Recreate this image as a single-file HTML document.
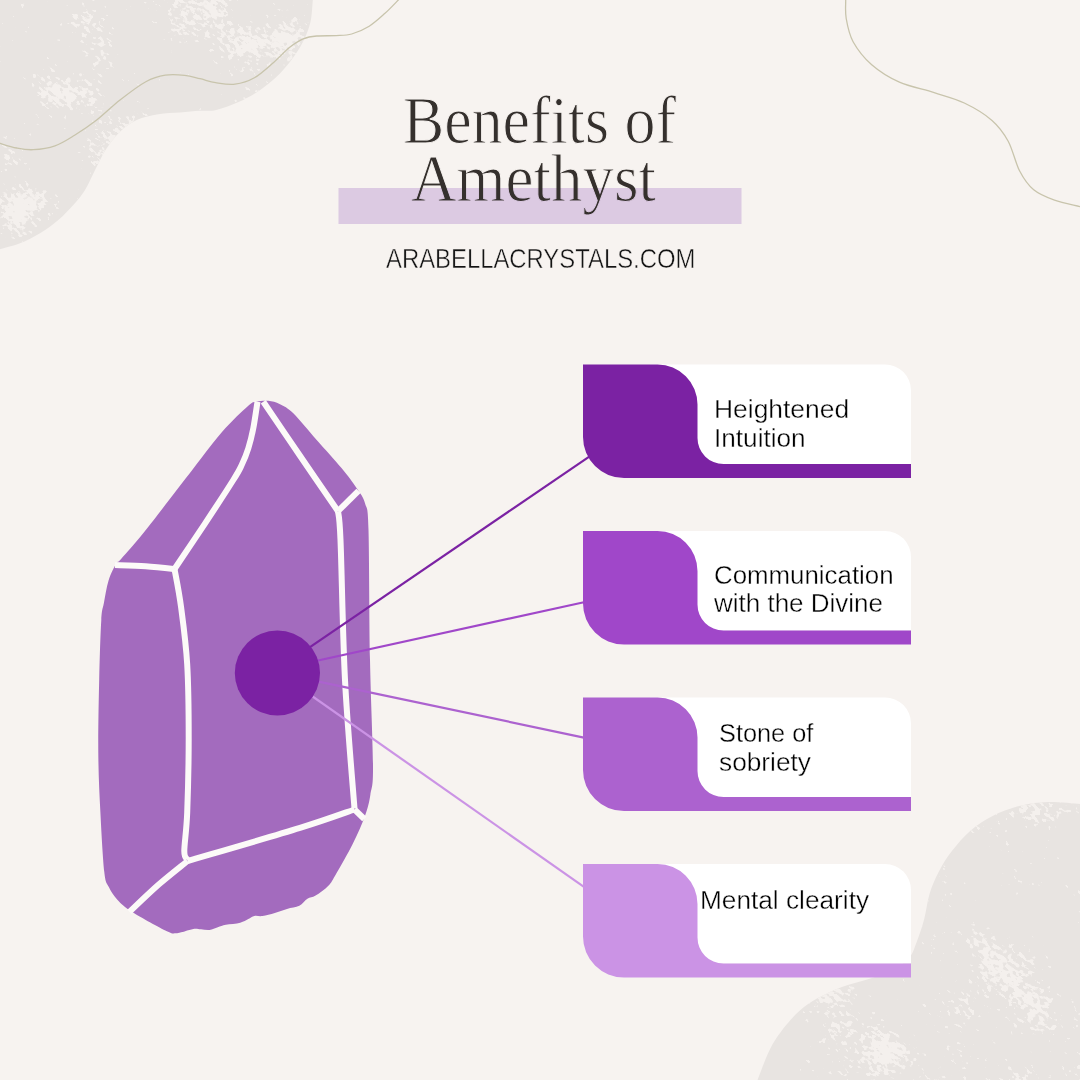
<!DOCTYPE html>
<html><head><meta charset="utf-8">
<style>
html,body{margin:0;padding:0;}
body{width:1080px;height:1080px;overflow:hidden;background:#f7f3f0;position:relative;}
svg{position:absolute;left:0;top:0;}
.t{position:absolute;white-space:nowrap;}
.title{font-family:"Liberation Serif",serif;color:#35302d;font-size:67px;line-height:58px;transform-origin:0 0;}
.site{font-family:"Liberation Sans",sans-serif;color:#141414;font-size:28px;line-height:30px;transform-origin:0 0;-webkit-text-stroke:0.45px #f7f3f0;}
.card{font-family:"Liberation Sans",sans-serif;color:#000;font-size:25.2px;line-height:29px;transform-origin:0 0;-webkit-text-stroke:0.35px #fff;}
</style></head>
<body>
<svg width="1080" height="1080" viewBox="0 0 1080 1080">
  <defs>
 <filter id="spk" filterUnits="userSpaceOnUse" x="-300" y="-300" width="1700" height="1700" color-interpolation-filters="sRGB">
  <feTurbulence type="fractalNoise" baseFrequency="0.16 0.3" numOctaves="4" seed="4" result="n"/>
  <feTurbulence type="fractalNoise" baseFrequency="0.015" numOctaves="2" seed="11" result="low"/>
  <feComposite in="n" in2="low" operator="arithmetic" k1="0" k2="1" k3="1.2" k4="-0.6" result="mix"/>
  <feColorMatrix in="mix" type="matrix" values="0 0 0 0 0.957  0 0 0 0 0.941  0 0 0 0 0.929  14 0 0 0 -2.5"/>
 </filter>
 <clipPath id="cbl"><path d="M0,0 L312.8,0.0 C312.4,3.6 312.1,14.8 310.5,21.8 C308.9,28.8 306.2,35.4 303.0,41.8 C299.8,48.2 295.9,54.0 291.4,60.0 C286.9,66.0 281.4,72.4 275.8,77.6 C270.2,82.8 264.3,87.3 258.0,91.4 C251.7,95.5 245.0,99.2 238.0,102.3 C231.0,105.4 222.5,108.6 216.2,110.0 C209.9,111.4 206.0,110.4 200.0,110.8 C194.0,111.2 186.9,111.9 180.0,112.5 C173.1,113.1 165.5,113.0 158.3,114.2 C151.1,115.5 143.1,117.1 136.7,120.0 C130.3,122.9 125.0,127.0 120.0,131.7 C115.0,136.4 110.6,142.5 106.7,148.3 C102.8,154.1 100.3,159.8 96.7,166.7 C93.1,173.6 88.9,183.6 85.0,190.0 C81.1,196.4 77.8,200.0 73.3,205.0 C68.8,210.0 63.8,215.3 58.3,220.0 C52.8,224.7 46.4,229.4 40.0,233.3 C33.6,237.2 26.7,240.7 20.0,243.3 C13.3,246.0 3.3,248.2 0.0,249.2 Z"/><path d="M1080.0,803.9 C1074.7,803.6 1058.0,801.7 1048.1,802.0 C1038.2,802.3 1029.6,803.4 1020.4,805.7 C1011.1,808.0 1000.9,811.7 992.6,815.9 C984.3,820.1 977.2,824.8 970.4,830.7 C963.6,836.6 957.1,844.3 951.9,851.1 C946.6,857.9 942.6,864.4 938.9,871.5 C935.2,878.6 932.1,885.7 929.6,893.7 C927.1,901.7 926.2,911.6 924.1,919.6 C922.0,927.6 919.2,935.5 916.7,941.9 C914.2,948.3 913.0,953.3 909.0,958.0 C905.0,962.7 899.6,966.5 893.0,970.0 C886.4,973.5 878.1,975.9 869.6,978.7 C861.1,981.5 850.5,983.8 841.9,987.0 C833.3,990.2 824.9,994.1 817.8,998.1 C810.7,1002.1 805.2,1005.9 799.3,1011.1 C793.4,1016.4 787.5,1023.1 782.6,1029.6 C777.7,1036.1 773.8,1041.6 769.6,1050.0 C765.4,1058.4 759.6,1075.0 757.6,1080.0 L1080,1080 Z"/></clipPath>
</defs>
<path d="M0,0 L312.8,0.0 C312.4,3.6 312.1,14.8 310.5,21.8 C308.9,28.8 306.2,35.4 303.0,41.8 C299.8,48.2 295.9,54.0 291.4,60.0 C286.9,66.0 281.4,72.4 275.8,77.6 C270.2,82.8 264.3,87.3 258.0,91.4 C251.7,95.5 245.0,99.2 238.0,102.3 C231.0,105.4 222.5,108.6 216.2,110.0 C209.9,111.4 206.0,110.4 200.0,110.8 C194.0,111.2 186.9,111.9 180.0,112.5 C173.1,113.1 165.5,113.0 158.3,114.2 C151.1,115.5 143.1,117.1 136.7,120.0 C130.3,122.9 125.0,127.0 120.0,131.7 C115.0,136.4 110.6,142.5 106.7,148.3 C102.8,154.1 100.3,159.8 96.7,166.7 C93.1,173.6 88.9,183.6 85.0,190.0 C81.1,196.4 77.8,200.0 73.3,205.0 C68.8,210.0 63.8,215.3 58.3,220.0 C52.8,224.7 46.4,229.4 40.0,233.3 C33.6,237.2 26.7,240.7 20.0,243.3 C13.3,246.0 3.3,248.2 0.0,249.2 Z" fill="#e8e4e1"/>
<path d="M1080.0,803.9 C1074.7,803.6 1058.0,801.7 1048.1,802.0 C1038.2,802.3 1029.6,803.4 1020.4,805.7 C1011.1,808.0 1000.9,811.7 992.6,815.9 C984.3,820.1 977.2,824.8 970.4,830.7 C963.6,836.6 957.1,844.3 951.9,851.1 C946.6,857.9 942.6,864.4 938.9,871.5 C935.2,878.6 932.1,885.7 929.6,893.7 C927.1,901.7 926.2,911.6 924.1,919.6 C922.0,927.6 919.2,935.5 916.7,941.9 C914.2,948.3 913.0,953.3 909.0,958.0 C905.0,962.7 899.6,966.5 893.0,970.0 C886.4,973.5 878.1,975.9 869.6,978.7 C861.1,981.5 850.5,983.8 841.9,987.0 C833.3,990.2 824.9,994.1 817.8,998.1 C810.7,1002.1 805.2,1005.9 799.3,1011.1 C793.4,1016.4 787.5,1023.1 782.6,1029.6 C777.7,1036.1 773.8,1041.6 769.6,1050.0 C765.4,1058.4 759.6,1075.0 757.6,1080.0 L1080,1080 Z" fill="#e8e4e1"/>
<g clip-path="url(#cbl)"><g transform="rotate(35 540 540)"><rect x="-300" y="-300" width="1700" height="1700" fill="#fff" filter="url(#spk)"/></g></g>
<path d="M-5.0,141.5 C-4.2,141.8 -3.6,142.2 0.0,143.3 C3.6,144.4 11.1,146.9 16.7,148.0 C22.2,149.1 26.9,150.1 33.3,149.7 C39.7,149.3 48.0,148.2 55.0,145.8 C62.0,143.4 68.0,139.3 75.0,135.0 C82.0,130.7 89.2,125.8 96.7,120.0 C104.2,114.2 111.8,106.4 120.0,100.0 C128.2,93.6 138.2,85.8 145.8,81.7 C153.4,77.6 158.8,76.2 165.3,75.2 C171.8,74.2 178.9,74.8 184.7,75.4 C190.5,76.0 194.8,77.5 200.0,78.7 C205.2,79.9 209.8,81.7 215.6,82.6 C221.4,83.5 228.5,85.0 235.0,84.2 C241.5,83.4 247.9,81.5 254.4,77.8 C260.9,74.1 268.1,67.2 273.9,62.2 C279.7,57.2 284.5,51.5 289.4,47.6 C294.3,43.7 298.6,40.8 303.1,38.9 C307.7,37.0 311.2,36.5 316.7,36.0 C322.2,35.5 330.3,35.9 336.1,35.6 C341.9,35.3 346.2,35.6 351.7,34.0 C357.2,32.4 363.7,29.6 369.2,26.2 C374.7,22.8 379.8,18.0 384.7,13.6 C389.6,9.2 395.1,3.3 398.3,0.0 C401.5,-3.3 403.1,-5.0 404.0,-6.0" fill="none" stroke="#c8c4ac" stroke-width="1.3"/>
<path d="M845.5,-10.0 C845.5,-8.3 845.6,-4.8 845.7,0.0 C845.8,4.8 845.0,11.6 846.2,18.5 C847.4,25.4 848.9,34.0 853.1,41.7 C857.4,49.4 864.0,58.0 871.7,64.8 C879.4,71.5 889.0,77.6 899.4,82.2 C909.8,86.8 923.4,89.1 934.2,92.6 C945.0,96.1 954.7,98.4 964.3,103.0 C973.9,107.6 984.7,114.0 992.0,120.4 C999.3,126.8 1003.6,132.7 1008.2,141.2 C1012.8,149.7 1015.5,163.2 1019.8,171.3 C1024.0,179.4 1027.9,185.0 1033.7,189.8 C1039.5,194.6 1046.8,197.4 1054.5,200.2 C1062.2,203.0 1074.1,205.2 1080.0,206.7 C1085.9,208.2 1088.3,208.6 1090.0,209.0" fill="none" stroke="#c8c4ac" stroke-width="1.3"/>

  <!-- title bar -->
  <rect x="338.5" y="188" width="403" height="36" fill="#dccae2"/>

  <!-- crystal -->
<path d="M256.7,401.7 C260.0,400.9 264.4,400.4 268.3,400.8 C272.2,401.2 275.8,402.1 280.0,404.2 C284.2,406.3 287.2,407.3 293.3,413.3 C299.4,419.3 308.6,430.8 316.7,440.0 C324.8,449.2 335.0,460.2 341.7,468.3 C348.4,476.4 352.8,482.5 356.7,488.3 C360.6,494.1 363.0,496.4 365.0,503.3 C367.0,510.2 367.7,503.9 368.5,530.0 C369.3,556.1 369.2,620.7 370.0,660.0 C370.8,699.3 372.9,743.6 373.0,766.0 C373.1,788.4 371.7,786.2 370.4,794.5 C369.1,802.8 368.0,807.4 365.1,815.6 C362.2,823.8 357.8,833.7 352.8,843.7 C347.8,853.7 339.3,868.4 335.2,875.4 C331.1,882.4 331.4,882.6 328.1,886.0 C324.8,889.4 319.1,893.5 315.6,895.6 C312.2,897.7 310.1,897.0 307.4,898.7 C304.7,900.4 302.7,904.1 299.3,905.8 C295.9,907.5 291.1,907.7 287.0,908.9 C282.9,910.1 278.9,911.8 274.8,913.0 C270.7,914.2 266.0,915.5 262.6,916.0 C259.2,916.5 256.8,915.5 254.4,916.0 C252.0,916.5 250.7,917.9 248.3,919.0 C245.9,920.1 243.9,921.7 240.2,922.7 C236.5,923.7 229.6,924.0 225.9,924.8 C222.2,925.5 220.5,926.4 217.8,927.2 C215.1,928.1 212.4,929.5 209.6,929.9 C206.8,930.2 203.7,929.5 201.0,929.3 C198.3,929.1 196.6,928.4 193.3,928.9 C190.0,929.4 184.2,931.6 181.1,932.3 C178.0,933.0 177.4,933.5 175.0,933.3 C172.6,933.1 174.0,934.8 166.9,931.3 C159.8,927.8 140.4,917.2 132.2,912.0 C124.0,906.8 121.5,904.2 117.6,900.0 C113.7,895.8 110.9,891.4 108.7,886.7 C106.5,882.0 105.7,884.2 104.3,871.9 C102.9,859.5 101.4,832.4 100.4,812.6 C99.4,792.8 98.5,775.5 98.3,753.3 C98.1,731.1 98.7,701.5 99.2,679.3 C99.7,657.1 100.5,632.7 101.3,620.0 C102.1,607.3 102.7,609.5 103.9,603.0 C105.1,596.5 106.5,587.2 108.5,580.7 C110.5,574.2 113.8,567.7 116.0,564.0 C118.2,560.3 116.7,564.0 121.5,558.5 C126.3,553.0 133.1,545.9 145.0,531.0 C156.9,516.1 180.2,485.5 193.0,469.0 C205.8,452.5 212.8,442.5 222.0,432.0 C231.2,421.5 242.5,410.9 248.3,405.8 C254.1,400.8 253.4,402.5 256.7,401.7 Z" fill="#a36bbe"/>
<g fill="none" stroke="#fcfaf8" stroke-width="6" stroke-linecap="butt" stroke-linejoin="round">
<path d="M257.5,401.7 C256.8,406.1 254.8,420.5 253.3,428.3 C251.8,436.1 250.2,442.2 248.3,448.3 C246.4,454.4 244.2,459.7 241.7,465.0 C239.2,470.3 239.5,470.2 233.3,480.0 C227.2,489.8 214.6,509.0 204.8,523.8 C195.0,538.6 179.6,561.5 174.5,569.0"/>
<path d="M115.0,565.0 C120.1,565.2 135.7,565.6 145.6,566.3 C155.5,567.0 169.7,568.5 174.5,569.0"/>
<path d="M174.5,569.0 C175.6,575.3 178.9,590.8 181.0,606.7 C183.1,622.6 185.9,642.4 187.2,664.4 C188.5,686.4 188.7,713.8 188.7,738.5 C188.7,763.2 187.9,793.8 187.2,812.6 C186.5,831.4 184.3,843.3 184.3,851.1 C184.3,858.9 186.7,858.1 187.2,859.5"/>
<path d="M263.3,401.7 C269.4,410.7 287.6,437.6 300.0,455.8 C312.4,474.1 331.7,502.0 338.0,511.2"/>
<path d="M338,511.2 L358.5,490.8"/>
<path d="M338.0,511.2 C338.4,516.0 339.3,511.9 340.5,540.0 C341.7,568.1 342.7,635.2 345.0,680.0 C347.3,724.8 352.9,787.1 354.5,808.5"/>
<path d="M187.5,861.0 C206.2,855.5 272.2,836.5 300.0,827.9 C327.8,819.3 345.4,812.6 354.5,809.5"/>
<path d="M187.5,861.0 C182.8,864.9 168.7,875.8 159.0,884.3 C149.3,892.8 134.3,907.3 129.4,911.9"/>
<path d="M354.5,809.5 L364.3,819"/>
</g>

  <!-- lines -->
  <g stroke-width="2.2">
    <line x1="277" y1="669.6" x2="590" y2="456.1" stroke="#7b22a3"/>
    <line x1="277" y1="669.5" x2="585" y2="602" stroke="#a047c9"/>
    <line x1="277" y1="672.8" x2="585" y2="737.8" stroke="#ac62cf"/>
    <line x1="277" y1="671.5" x2="585" y2="887.6" stroke="#cb93e5"/>
  </g>
  <circle cx="277.4" cy="673" r="42.6" fill="#7b22a3"/>

  <!-- cards -->
  <g id="cards">
  <path d="M650,364.5 H885 A26,26 0 0 1 911,390.5 V464.0 H650 Z" fill="#fff"/>
  <path d="M583,364.5 H657.5 A40,40 0 0 1 697.5,404.5 V438.0 A26,26 0 0 0 723.5,464.0 H911 V478.0 H624 A41,41 0 0 1 583,437.0 Z" fill="#7b22a3"/>
  <path d="M650,531 H885 A26,26 0 0 1 911,557 V630.5 H650 Z" fill="#fff"/>
  <path d="M583,531 H657.5 A40,40 0 0 1 697.5,571 V604.5 A26,26 0 0 0 723.5,630.5 H911 V644.5 H624 A41,41 0 0 1 583,603.5 Z" fill="#a047c9"/>
  <path d="M650,697.5 H885 A26,26 0 0 1 911,723.5 V797.0 H650 Z" fill="#fff"/>
  <path d="M583,697.5 H657.5 A40,40 0 0 1 697.5,737.5 V771.0 A26,26 0 0 0 723.5,797.0 H911 V811.0 H624 A41,41 0 0 1 583,770.0 Z" fill="#ac62cf"/>
  <path d="M650,864 H885 A26,26 0 0 1 911,890 V963.5 H650 Z" fill="#fff"/>
  <path d="M583,864 H657.5 A40,40 0 0 1 697.5,904 V937.5 A26,26 0 0 0 723.5,963.5 H911 V977.5 H624 A41,41 0 0 1 583,936.5 Z" fill="#cb93e5"/>
</g>
</svg>

<div class="t title" style="left:403px;top:91.2px;transform:scaleX(0.923);-webkit-text-stroke:1px #f7f3f0;">Benefits of</div>
<div class="t title" style="left:411px;top:149.4px;transform:scaleX(0.94);-webkit-text-stroke:1px #f7f3f0;clip-path:inset(-20px -20px 19.4px -20px);">Amethyst</div>
<div class="t title" style="left:411px;top:149.4px;transform:scaleX(0.94);-webkit-text-stroke:1px #dccae2;clip-path:inset(38.6px -20px -30px -20px);">Amethyst</div>
<div class="t site" style="left:386px;top:244.1px;transform:scaleX(0.852);">ARABELLACRYSTALS.COM</div>

<div class="t card" style="left:714px;top:394.8px;transform:scaleX(1.0488);">Heightened</div>
<div class="t card" style="left:714px;top:423.7px;transform:scaleX(1.0390);">Intuition</div>
<div class="t card" style="left:714px;top:560.5px;transform:scaleX(1.0262);">Communication</div>
<div class="t card" style="left:714px;top:589.4px;transform:scaleX(1.032);">with the Divine</div>
<div class="t card" style="left:719px;top:719px;transform:scaleX(1.0047);">Stone of</div>
<div class="t card" style="left:719px;top:747.9px;transform:scaleX(1.0429);">sobriety</div>
<div class="t card" style="left:699.5px;top:885.6px;transform:scaleX(1.0409);">Mental clearity</div>
</body></html>
